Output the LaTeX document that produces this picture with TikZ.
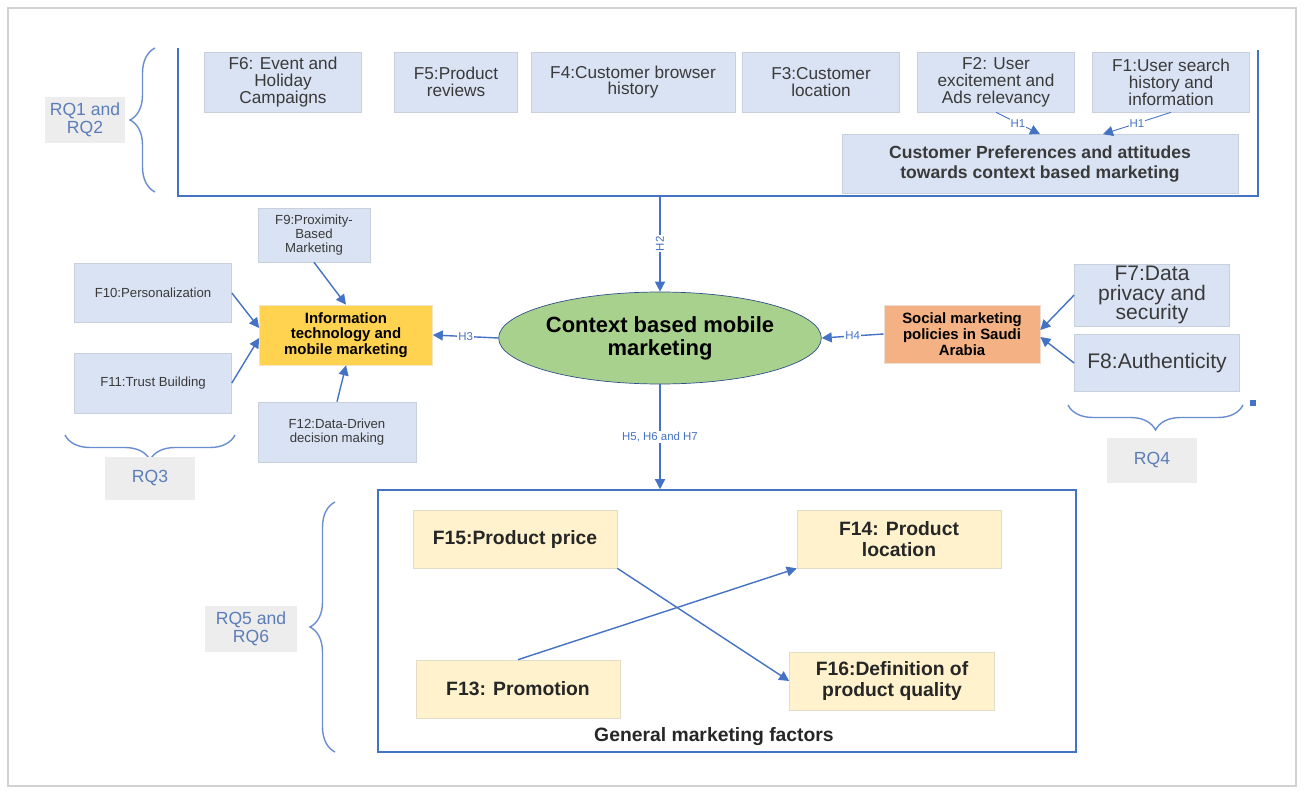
\documentclass[tikz,border=0pt]{standalone}
\usepackage{fontspec}
\setmainfont{Liberation Sans}
\usetikzlibrary{arrows.meta,shapes.geometric,positioning,decorations.pathreplacing}

\definecolor{boxblue}{HTML}{DAE3F3}
\definecolor{boxline}{HTML}{C9D0DC}
\definecolor{lineblue}{HTML}{4472C4}
\definecolor{rqgray}{HTML}{EDEDED}
\definecolor{rqtext}{HTML}{5B7DB8}
\definecolor{txt}{HTML}{3A3A3A}
\definecolor{cbmgreen}{HTML}{A9D18E}
\definecolor{itgold}{HTML}{FFD34F}
\definecolor{smporange}{HTML}{F4B183}
\definecolor{gmfyellow}{HTML}{FFF2CC}
\definecolor{gmfline}{HTML}{E3DCC6}

\begin{document}
\begin{tikzpicture}[x=0.02cm, y=-0.02cm,
    fbox/.style={draw=boxline, fill=boxblue, text=txt, align=center, inner sep=1pt, font=\fontsize{9.8}{9.6}\selectfont},
    smallf/.style={fbox, font=\fontsize{7.5}{8}\selectfont},
    bigf/.style={fbox, font=\fontsize{12}{11.3}\selectfont},
    ybox/.style={draw=gmfline, fill=gmfyellow, text=black!85, align=center, inner sep=1pt, font=\bfseries\fontsize{11}{11.5}\selectfont},
    rqbox/.style={fill=rqgray, text=rqtext, align=center, inner sep=1pt, font=\fontsize{10}{10}\selectfont},
    arr/.style={-{Triangle[length=2mm,width=2mm]}, lineblue, line width=0.8pt},
    frame/.style={lineblue, line width=0.9pt},
    brc/.style={lineblue!80, line width=0.8pt, decorate, decoration={brace, amplitude=0.5cm, aspect=0.5}},
    hlab/.style={fill=white, text=lineblue, inner sep=0.6pt, font=\fontsize{6.5}{6.5}\selectfont}
]
\useasboundingbox (0,0) rectangle (1304,794);
\draw[gray!35, line width=1.5pt] (8,8) rectangle (1296,786);

% top group
\draw[frame] (178,48) -- (178,196) -- (1258,196) -- (1258,50);
\coordinate (topout) at (660,196);
\node[fbox, minimum width=3.14cm, minimum height=1.2cm] (f6) at (283,82) {F6: Event and\\Holiday\\Campaigns};
\node[fbox, minimum width=2.46cm, minimum height=1.2cm] (f5) at (456,82) {F5:Product\\reviews};
\node[fbox, minimum width=4.08cm, minimum height=1.2cm] (f4) at (633,82) {F4:Customer browser\\history};
\node[fbox, minimum width=3.14cm, minimum height=1.2cm] (f3) at (821,82) {F3:Customer\\location};
\node[fbox, minimum width=3.14cm, minimum height=1.2cm] (f2) at (996,82) {F2: User\\excitement and\\Ads relevancy};
\node[fbox, minimum width=3.14cm, minimum height=1.2cm] (f1) at (1171,82) {F1:User search\\history and\\information};
\node[fbox, minimum width=7.92cm, minimum height=1.18cm, font=\bfseries\fontsize{10}{11}\selectfont] (cp) at (1040,164) {Customer Preferences and attitudes\\towards context based marketing};

\draw[arr, line width=0.5pt] (f2.south) -- node[hlab, pos=0.5, inner sep=0.3pt] {H1} (cp.north);
\draw[arr, line width=0.5pt] (f1.south) -- node[hlab, pos=0.5, inner sep=0.3pt] {H1} ([xshift=1.26cm]cp.north);

\draw[brc] (155,192) -- (155,48);
\node[rqbox, minimum width=1.6cm, minimum height=0.92cm] (rq12) at (85,120) {RQ1 and\\RQ2};

% centre
\node[ellipse, draw=lineblue!70!black, fill=cbmgreen, minimum width=5.84cm, minimum height=1.84cm, inner sep=0pt, align=center, font=\bfseries\fontsize{12.5}{13}\selectfont] (cbm) at (660,338) {Context based mobile\\marketing};
\node[draw=itgold!80!black!30, fill=itgold, minimum width=3.46cm, minimum height=1.2cm, align=center, inner sep=1pt, font=\bfseries\fontsize{8.5}{9}\selectfont] (it) at (346,335) {Information\\technology and\\mobile marketing};
\node[draw=smporange!80!black!30, fill=smporange, minimum width=3.12cm, minimum height=1.16cm, align=center, inner sep=1pt, font=\bfseries\fontsize{8.5}{9}\selectfont] (smp) at (962,334) {Social marketing\\policies in Saudi\\Arabia};

\draw[arr] (topout) -- node[hlab, rotate=90] {H2} (cbm.north);
\draw[arr] (cbm.west) -- node[hlab] {H3} (it.east);
\draw[arr] (smp.west) -- node[hlab] {H4} (cbm.east);

% left factors
\node[smallf, minimum width=2.24cm, minimum height=1.08cm] (f9) at (314,235) {F9:Proximity-\\Based\\Marketing};
\node[smallf, minimum width=3.14cm, minimum height=1.18cm] (f10) at (153,293) {F10:Personalization};
\node[smallf, minimum width=3.14cm, minimum height=1.2cm] (f11) at (153,383) {F11:Trust Building};
\node[smallf, minimum width=3.16cm, minimum height=1.2cm] (f12) at (337,432) {F12:Data-Driven\\decision making};

\draw[arr] (f9.south) -- (it.north);
\draw[arr] (f10.east) -- ([yshift=0.14cm]it.west);
\draw[arr] (f11.east) -- ([yshift=-0.06cm]it.west);
\draw[arr] (f12.north) -- (it.south);

\draw[brc] (235,435) -- (65,435);
\node[rqbox, minimum width=1.8cm, minimum height=0.86cm] (rq3) at (150,478) {RQ3};

% right factors
\node[bigf, minimum width=3.1cm, minimum height=1.2cm] (f7) at (1152,295) {F7:Data\\privacy and\\security};
\node[bigf, minimum width=3.3cm, minimum height=1.14cm] (f8) at (1157,363) {F8:Authenticity};

\draw[arr] (f7.west) -- ([yshift=0.08cm]smp.east);
\draw[arr] (f8.west) -- ([yshift=-0.06cm]smp.east);

\draw[brc] (1243,405) -- (1068,405);
\node[rqbox, minimum width=1.8cm, minimum height=0.9cm] (rq4) at (1152,460) {RQ4};
\fill[lineblue] (1250,400) rectangle (1256,406);

% general marketing factors
\node[draw=lineblue, line width=0.9pt, minimum width=13.96cm, minimum height=5.24cm] (gmf) at (727,621) {};
\node[font=\bfseries\fontsize{11}{11}\selectfont, text=black!85] (gmflab) at (714,737) {General marketing factors};
\draw[arr] (cbm.south) -- node[hlab, pos=0.5] {H5, H6 and H7} (cbm.south |- gmf.north);

\node[ybox, minimum width=4.08cm, minimum height=1.16cm] (f15) at (515,539) {F15:Product price};
\node[ybox, minimum width=4.08cm, minimum height=1.16cm] (f14) at (899,539) {F14: Product\\location};
\node[ybox, minimum width=4.08cm, minimum height=1.16cm] (f13) at (518,689) {F13: Promotion};
\node[ybox, minimum width=4.1cm, minimum height=1.16cm] (f16) at (892,681) {F16:Definition of\\product quality};

\draw[arr] (f15.south east) -- (f16.west);
\draw[arr] (f13.north) -- (f14.south west);

\draw[brc] (335,752) -- (335,502);
\node[rqbox, minimum width=1.84cm, minimum height=0.92cm] (rq56) at (251,629) {RQ5 and\\RQ6};
\end{tikzpicture}
\end{document}
